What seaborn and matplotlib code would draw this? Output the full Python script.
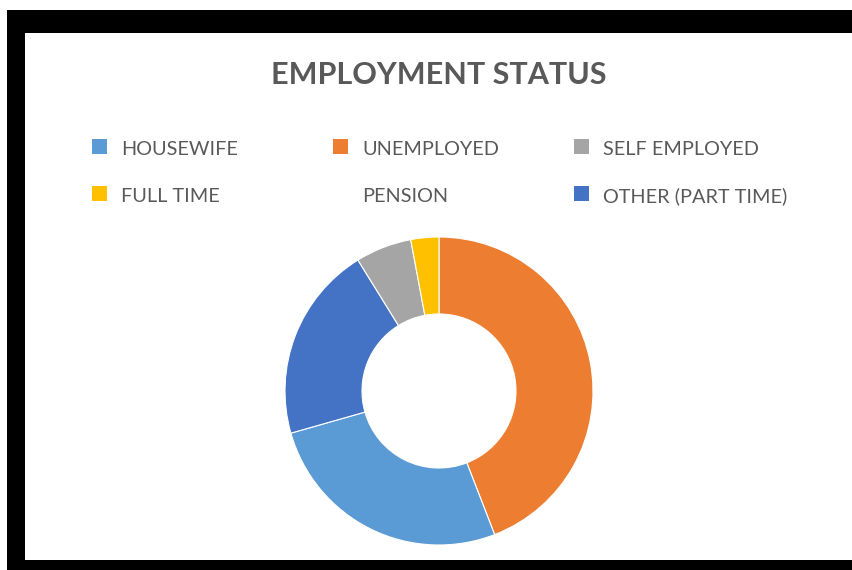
import matplotlib
matplotlib.use("Agg")
import matplotlib.pyplot as plt
from matplotlib.patches import Rectangle
import seaborn as sns

# ---- data ----
categories = ["HOUSEWIFE", "UNEMPLOYED", "SELF EMPLOYED", "FULL TIME", "PENSION", "OTHER (PART TIME)"]
counts = [9, 15, 2, 1, 0, 7]
colors = ["#5B9BD5", "#ED7D31", "#A5A5A5", "#FFC000", "none", "#4472C4"]
# order of slices clockwise from 12 o'clock
pie_order = ["UNEMPLOYED", "HOUSEWIFE", "OTHER (PART TIME)", "SELF EMPLOYED", "FULL TIME"]
title = "EMPLOYMENT STATUS"

sns.set_theme(style="white")
plt.rcParams["font.family"] = ["Lato", "DejaVu Sans"]

W, H = 853, 570
fig = plt.figure(figsize=(W / 100, H / 100), dpi=100)
fig.patch.set_facecolor("white")

def fx(x): return x / W
def fy(y): return 1 - y / H

# black frame and white panel
fig.patches.append(Rectangle((fx(7), 0), 1 - fx(7), fy(10), transform=fig.transFigure,
                             facecolor="black", edgecolor="none", zorder=0))
fig.patches.append(Rectangle((fx(25), fy(560)), 1 - fx(25), fy(33) - fy(560), transform=fig.transFigure,
                             facecolor="white", edgecolor="none", zorder=1))

# pie
cx, cy, r = 439, 391, 154
ax = fig.add_axes([fx(cx - r), fy(cy + r), (2 * r) / W, (2 * r) / H])
ax.set_zorder(5)
ax.patch.set_alpha(0)
idx = [categories.index(c) for c in pie_order]
ax.pie([counts[i] for i in idx], colors=[colors[i] for i in idx], startangle=90,
       counterclock=False, radius=1,
       wedgeprops=dict(width=0.5, edgecolor="white", linewidth=0.8))
ax.set_xlim(-1, 1)
ax.set_ylim(-1, 1)
ax.set_aspect("auto")
ax.axis("off")

# title
fig.text(fx(439), fy(75), title, ha="center", va="center", fontsize=22,
         fontweight="bold", color="#595959", zorder=3)

# legend (3 columns x 2 rows)
col_x = [92, 333, 574]
row_base = [155, 202]
for k, (lab, colr) in enumerate(zip(categories, colors)):
    rr, cc = divmod(k, 3)
    x, yb = col_x[cc], row_base[rr]
    if colr != "none":
        fig.patches.append(Rectangle((fx(x), fy(yb - 1)), 15 / W, 15 / H, transform=fig.transFigure,
                                     facecolor=colr, edgecolor="none", zorder=3))
    fig.text(fx(x + 29), fy(yb), lab, ha="left", va="baseline", fontsize=14.3,
             color="#595959", zorder=3)

fig.savefig("out.png", dpi=100)
